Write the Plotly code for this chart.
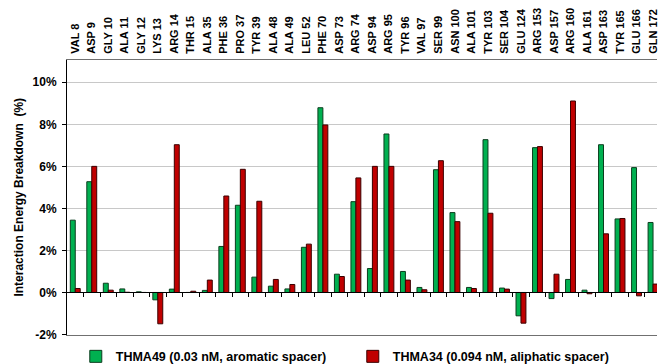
import plotly.graph_objects as go

residues = ["VAL 8", "ASP 9", "GLY 10", "ALA 11", "GLY 12", "LYS 13", "ARG 14", "THR 15",
            "ALA 35", "PHE 36", "PRO 37", "TYR 39", "ALA 48", "ALA 49", "LEU 52", "PHE 70",
            "ASP 73", "ARG 74", "ASP 94", "ARG 95", "TYR 96", "VAL 97", "SER 99", "ASN 100",
            "ALA 101", "TYR 103", "SER 104", "GLU 124", "ARG 153", "ASP 157", "ARG 160",
            "ALA 161", "ASP 163", "TYR 165", "GLU 166", "GLN 172"]

thma49 = [3.44, 5.27, 0.44, 0.17, 0.03, -0.35, 0.16, 0.0, 0.10, 2.19, 4.15, 0.73,
          0.30, 0.17, 2.15, 8.79, 0.87, 4.32, 1.14, 7.54, 1.00, 0.24, 5.84, 3.80,
          0.24, 7.27, 0.21, -1.11, 6.89, -0.29, 0.62, 0.11, 7.03, 3.50, 5.94, 3.33]

thma34 = [0.19, 6.00, 0.11, 0.01, 0.0, -1.49, 7.03, 0.06, 0.59, 4.59, 5.86, 4.34,
          0.62, 0.38, 2.30, 7.97, 0.76, 5.45, 6.00, 6.00, 0.59, 0.13, 6.27, 3.37,
          0.19, 3.77, 0.16, -1.46, 6.94, 0.87, 9.11, -0.06, 2.79, 3.52, -0.16, 0.40]

series_names = ["THMA49 (0.03 nM, aromatic spacer)", "THMA34 (0.094 nM, aliphatic spacer)"]

y_ticks = [-2, 0, 2, 4, 6, 8, 10]
y_ticktext = ["-2%", "0%", "2%", "4%", "6%", "8%", "10%"]

FONT = "Liberation Sans, Arial, sans-serif"
y_range = [-2, 11.06]
x_range = [-0.5, 35.24]

fig = go.Figure()
fig.add_trace(go.Bar(x=residues, y=thma49, name=series_names[0],
                     marker=dict(color="#00B050", line=dict(color="#0B3D1E", width=1))))
fig.add_trace(go.Bar(x=residues, y=thma34, name=series_names[1],
                     marker=dict(color="#C00000", line=dict(color="#3A0000", width=1))))

# invisible helper trace so the zero-line axis (category boundary ticks) is drawn
fig.add_trace(go.Scatter(x=[0], y=[0], xaxis="x2", yaxis="y", mode="markers",
                         marker=dict(opacity=0), showlegend=False, hoverinfo="skip"))

zero_pos = (0 - y_range[0]) / (y_range[1] - y_range[0])

fig.update_layout(
    width=659, height=364,
    margin=dict(l=67, r=0, t=60, b=29),
    paper_bgcolor="white", plot_bgcolor="white",
    font=dict(family=FONT, color="black"),
    barmode="group", bargap=0.4, bargroupgap=0,
    showlegend=True,
    legend=dict(orientation="h", xref="container", yref="container",
                x=0.115, y=0.02, xanchor="left", yanchor="middle",
                font=dict(size=12.5, weight="bold", family=FONT),
                entrywidth=232, entrywidthmode="pixels",
                bgcolor="rgba(0,0,0,0)"),
    xaxis=dict(type="category", range=x_range, side="top", tickangle=-90,
               tickfont=dict(size=11, weight="bold", family=FONT),
               ticks="", showgrid=False, showline=True, linecolor="#707070",
               linewidth=1, mirror=True, ticklabelstandoff=3),
    xaxis2=dict(overlaying="x", anchor="free", position=zero_pos, side="bottom",
                range=x_range, tickvals=[i + 0.5 for i in range(len(residues) - 1)],
                ticks="outside", ticklen=4, tickcolor="black", showticklabels=False,
                showline=True, linecolor="black", linewidth=1, showgrid=False,
                zeroline=False),
    yaxis=dict(range=y_range, tickvals=y_ticks, ticktext=y_ticktext,
               tickfont=dict(size=12, weight="bold", family=FONT),
               ticks="outside", ticklen=4, tickcolor="black",
               showline=True, linecolor="black", linewidth=1,
               showgrid=True, gridcolor="#C8C8C8", gridwidth=1,
               zeroline=False, ticklabelstandoff=3,
               title=dict(text="Interaction Energy Breakdown  (%)",
                          font=dict(size=12, weight="bold", family=FONT),
                          standoff=6)),
)

fig.write_html("out.html")
